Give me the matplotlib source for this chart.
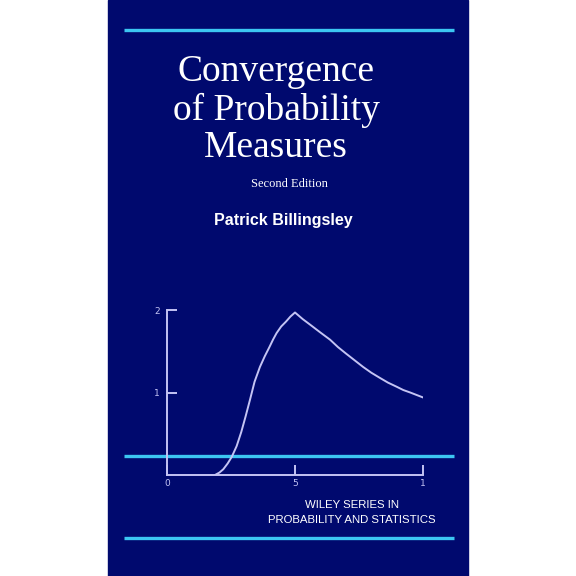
import matplotlib
matplotlib.use("Agg")
import matplotlib.pyplot as plt
from matplotlib.patches import Rectangle

curve_x = [1.875, 2.05, 2.2, 2.37, 2.53, 2.72, 2.9, 3.07, 3.24, 3.42, 3.63, 3.82, 4.0, 4.14, 4.28, 4.46, 4.65, 4.82, 5.0,
           5.3, 5.6, 5.98, 6.37, 6.68, 7.0, 7.33, 7.66, 7.98, 8.3, 8.63, 8.97, 9.23, 9.5, 9.75, 10.0]
curve_y = [0.0, 0.03, 0.07, 0.14, 0.22, 0.35, 0.52, 0.71, 0.91, 1.13, 1.31, 1.44, 1.55, 1.64, 1.72, 1.80, 1.86, 1.92, 1.97,
           1.89, 1.82, 1.73, 1.64, 1.55, 1.47, 1.39, 1.31, 1.24, 1.18, 1.12, 1.07, 1.03, 1.0, 0.97, 0.94]
xticks = [0, 5, 10]
xtick_labels = ["0", "5", "1"]
yticks = [1, 2]
ytick_labels = ["1", "2"]

W = H = 576
blue = "#00096e"
cyan = "#3cc6f2"
lav = "#c4c4f4"

fig = plt.figure(figsize=(5.76, 5.76), dpi=100)
fig.patch.set_facecolor("white")
bg = fig.add_axes([0, 0, 1, 1])
bg.set_xlim(0, W); bg.set_ylim(H, 0); bg.axis("off")
bg.add_patch(Rectangle((108, 0), 360, 576, color=blue, zorder=0))
for yy in (30, 456, 538):
    bg.plot([124, 454], [yy, yy], color=cyan, lw=2.4, zorder=5, solid_capstyle="butt")

serif = ["Liberation Serif", "DejaVu Serif"]
for i, t in enumerate(["Convergence", "of Probability", "Measures"]):
    bg.text(276, 72 + 38 * i, t, color="white", fontsize=27, family=serif, ha="center", va="center")
bg.text(289, 184, "Second Edition", color="white", fontsize=9, family=serif, ha="center", va="center")
bg.text(283, 221, "Patrick Billingsley", color="white", fontsize=11.5, family="Liberation Sans",
        fontweight="bold", ha="center", va="center")
bg.text(352, 505, "WILEY SERIES IN", color="white", fontsize=8.2, family="Liberation Sans", ha="center", va="center")
bg.text(352, 520, "PROBABILITY AND STATISTICS", color="white", fontsize=8.2, family="Liberation Sans", ha="center", va="center")

ax = fig.add_axes([167 / W, (H - 475) / H, 256 / W, 165 / H])
ax.patch.set_visible(False)
ax.set_xlim(0, 10); ax.set_ylim(0, 2)
ax.plot(curve_x, curve_y, color=lav, lw=1.4, zorder=3)
for s in ("top", "right"):
    ax.spines[s].set_visible(False)
for s in ("left", "bottom"):
    ax.spines[s].set_color(lav); ax.spines[s].set_linewidth(1.4)
ax.set_xticks(xticks, xtick_labels)
ax.set_yticks(yticks, ytick_labels)
ax.tick_params(axis="both", direction="in", length=7, width=1.4, color=lav, labelcolor=lav, labelsize=6.5, pad=3)
ax.tick_params(axis="y", pad=5)
fig.savefig("out.png", dpi=100, facecolor="white")
